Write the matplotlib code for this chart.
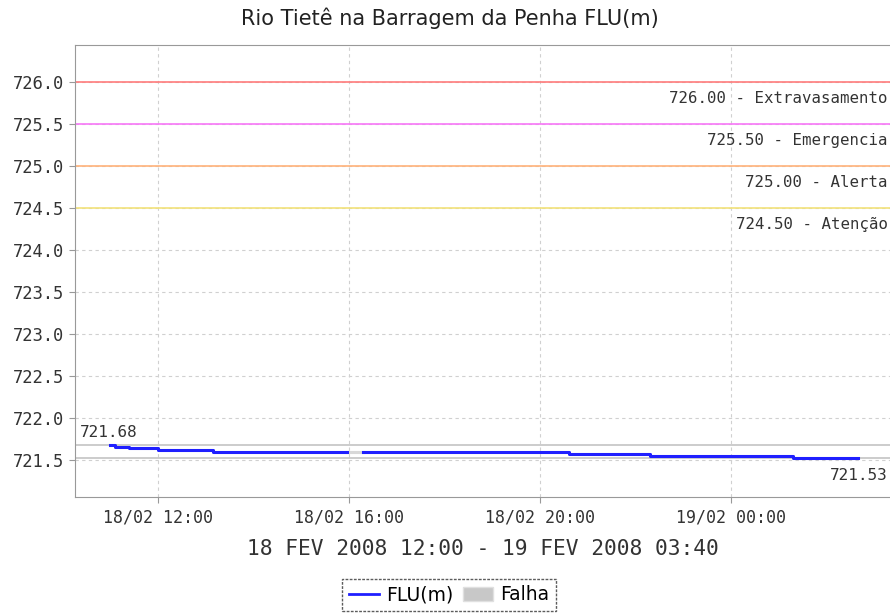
import matplotlib
matplotlib.use('Agg')
import matplotlib.pyplot as plt
from matplotlib.lines import Line2D
from matplotlib.patches import Patch

# hours counted from 18/02/2008 00:00
step_hours = [11.0, 11.1, 11.4, 12.0, 13.15, 15.96]
step_levels = [721.68, 721.66, 721.64, 721.62, 721.59, 721.59]
step_hours2 = [16.29, 20.6, 22.3, 25.3, 26.66]
step_levels2 = [721.59, 721.57, 721.55, 721.53, 721.53]
gap_hours = [15.96, 16.29]
gap_levels = [721.59, 721.59]

limit_levels = [726.0, 725.5, 725.0, 724.5]
limit_names = ['726.00 - Extravasamento', '725.50 - Emergencia',
               '725.00 - Alerta', '724.50 - Atenção']
limit_colors = ['#ff7b7b', '#f777f7', '#ffb27a', '#f2e27a']

max_level = 721.68
min_level = 721.53

xtick_hours = [12, 16, 20, 24]
xtick_labels = ['18/02 12:00', '18/02 16:00', '18/02 20:00', '19/02 00:00']
ytick_values = [721.5, 722.0, 722.5, 723.0, 723.5, 724.0, 724.5, 725.0,
                725.5, 726.0]

mono = 'DejaVu Sans Mono'
txtcol = '#333333'

fig = plt.figure(figsize=(8.9, 6.15), dpi=100)
ax = fig.add_axes([75 / 890, 1 - 497 / 615, 1 - 75 / 890, (497 - 45) / 615])

ax.set_xlim(10.26, 27.33)
ax.set_ylim(721.06, 726.44)

for lv, nm, c in zip(limit_levels, limit_names, limit_colors):
    ax.axhline(lv, color=c, lw=1.2, zorder=2)
    ax.text(27.28, lv - 0.2, nm, ha='right', va='center', fontsize=11.3,
            family=mono, color=txtcol)

ax.axhline(max_level, color='#c4c4c4', lw=1.2, zorder=2)
ax.axhline(min_level, color='#c4c4c4', lw=1.2, zorder=2)

ax.plot(step_hours, step_levels, drawstyle='steps-post', color='#1f1fff',
        lw=2.2, zorder=4)
ax.plot(step_hours2, step_levels2, drawstyle='steps-post', color='#1f1fff',
        lw=2.2, zorder=4)
ax.plot(gap_hours, gap_levels, color='#d8d8d8', lw=2.2, zorder=3)

ax.text(10.37, max_level + 0.15, '%.2f' % max_level, ha='left', va='center',
        fontsize=11.5, family=mono, color=txtcol)
ax.text(27.28, min_level - 0.22, '%.2f' % min_level, ha='right', va='center',
        fontsize=11.5, family=mono, color=txtcol)

ax.set_xticks(xtick_hours)
ax.set_xticklabels(xtick_labels, family=mono, fontsize=12, color=txtcol)
ax.set_yticks(ytick_values)
ax.set_yticklabels(['%.1f' % v for v in ytick_values], family=mono,
                   fontsize=12.3, color=txtcol)
ax.tick_params(length=4, color='#999999', pad=4)
ax.grid(True, color='#d0d0d0', ls=(0, (3, 3)), lw=0.8)
ax.set_axisbelow(True)
for side in ['left', 'bottom', 'top']:
    ax.spines[side].set_color('#999999')
ax.spines['right'].set_visible(False)

ax.set_xlabel('18 FEV 2008 12:00 - 19 FEV 2008 03:40', family=mono,
              fontsize=15.3, color=txtcol, labelpad=9)
fig.text(450 / 890, 1 - 18 / 615, 'Rio Tietê na Barragem da Penha FLU(m)',
         ha='center', va='center', fontsize=15, color='#222222')

handles = [Line2D([0], [0], color='#1f1fff', lw=2),
           Patch(facecolor='#c8c8c8', edgecolor='#e0e0e0')]
leg = fig.legend(handles, ['FLU(m)', 'Falha'], loc='center',
                 bbox_to_anchor=(449 / 890, 1 - 595 / 615), ncol=2,
                 fontsize=13.5, frameon=True, fancybox=False,
                 handlelength=1.6, handletextpad=0.4, columnspacing=0.5,
                 borderpad=0.35, handleheight=0.7)
fr = leg.get_frame()
fr.set_edgecolor('#333333')
fr.set_linestyle((0, (2, 1)))
fr.set_linewidth(1.0)

fig.savefig('out.png', dpi=100)
